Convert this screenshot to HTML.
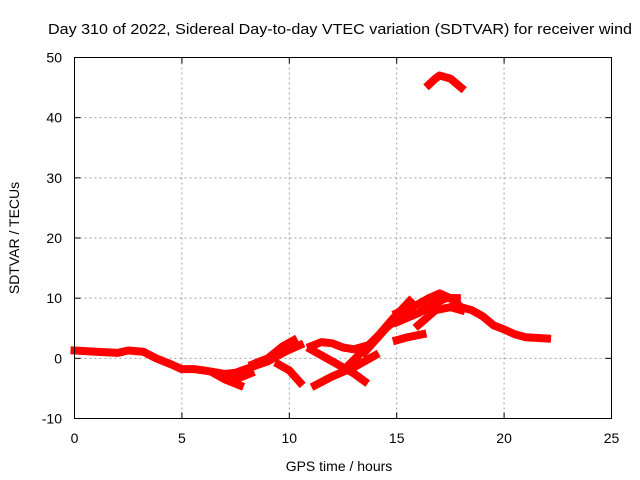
<!DOCTYPE html>
<html><head><meta charset="utf-8"><style>
body{margin:0;background:#fff;}
svg{display:block;font-family:"Liberation Sans",sans-serif;}
</style></head><body>
<svg id="chart" width="640" height="480">
<text x="48" y="34" font-size="15" textLength="584" lengthAdjust="spacingAndGlyphs" fill="#000">Day 310 of 2022, Sidereal Day-to-day VTEC variation (SDTVAR) for receiver wind</text>
<g id="grid"></g>
<g id="marks"></g>
<rect x="74.5" y="57.5" width="537" height="361" fill="none" stroke="#000"/>
<g id="ticks"></g>
<text x="0" y="0" font-size="14" text-anchor="middle" transform="translate(19,238) rotate(-90)">SDTVAR / TECUs</text>
<text x="339" y="471" font-size="14" text-anchor="middle">GPS time / hours</text>
</svg>
<script>
const xTicks=[0,5,10,15,20,25];
const yTicks=[-10,0,10,20,30,40,50];
const track1=[[0,1.3],[1,1.1],[2,0.9],[2.5,1.3],[3.2,1.1],[3.8,0],[4.5,-1],[5,-1.8],[5.6,-1.8],[6,-2],[7,-2.6],[7.5,-2.4],[8.2,-1.5],[9,-0.5],[10,1.5]];
const track2=[[6.5,-2.5],[7,-3.5],[7.7,-4.5]];
const track3=[[7.5,-3.5],[8.2,-2.5]];
const track4=[[8.3,-1],[9,0],[9.7,2],[10.2,3]];
const track5=[[9.4,0.5],[10.5,2.2]];
const track6=[[9.5,-1],[10,-2],[10.5,-4]];
const track7=[[11,2],[11.5,2.7],[12,2.5],[12.5,1.8],[13,1.5],[13.5,2]];
const track8=[[11,1.5],[12,-0.5],[12.5,-1.5],[13,-2.5],[13.5,-3.8]];
const track9=[[11.2,-4.5],[12,-3],[13,-1.5],[14,0.5]];
const track10=[[12.8,-1],[13.5,1.5],[14.2,4],[14.8,6.5],[15.2,8],[15.6,9.5]];
const track11=[[13.5,1],[14,3],[14.5,5],[15,6.5],[15.7,8]];
const track12=[[15,3],[15.5,3.5],[16.2,4]];
const track13=[[15,6],[16,7.5],[17,9.5],[17.3,10],[17.8,10]];
const track14=[[15,7.5],[16,9],[16.5,10],[17,10.8],[17.5,10],[18,8.5],[18.5,8],[19,7],[19.5,5.5],[20,4.8],[20.5,4],[21,3.5],[22,3.3]];
const track15=[[16,5.5],[16.8,8],[17.5,8.5],[18,8]];
const track16=[[16.5,45.5],[16.8,46.5],[17,47],[17.5,46.5],[18,45]];
const tracks=[track1,track2,track3,track4,track5,track6,track7,track8,track9,track10,track11,track12,track13,track14,track15,track16];
const X=v=>74.5+v/25*537;
const Y=v=>418.5-(v+10)/60*361;
const NS="http://www.w3.org/2000/svg";
const grid=document.getElementById('grid'),ticks=document.getElementById('ticks'),marks=document.getElementById('marks');
function mk(tag,attrs,parent){const e=document.createElementNS(NS,tag);for(const k in attrs)e.setAttribute(k,attrs[k]);parent.appendChild(e);return e;}
xTicks.forEach(t=>{
 if(t>0&&t<25){const g=mk('line',{x1:X(t),x2:X(t),y1:57.5,y2:418.5,stroke:'#a0a0a0','stroke-dasharray':'2,3'},grid);
 
 }
 mk('line',{x1:X(t),x2:X(t),y1:418.5,y2:412.5,stroke:'#000'},ticks);
 mk('line',{x1:X(t),x2:X(t),y1:57.5,y2:63.5,stroke:'#000'},ticks);
 const l=mk('text',{x:X(t),y:443,'font-size':14,'text-anchor':'middle'},ticks);l.textContent=t;
 
 
});
yTicks.forEach(t=>{
 if(t>-10&&t<50){const g=mk('line',{x1:74.5,x2:611.5,y1:Y(t),y2:Y(t),stroke:'#a0a0a0','stroke-dasharray':'2,3'},grid);
 
 }
 mk('line',{x1:74.5,x2:80.5,y1:Y(t),y2:Y(t),stroke:'#000'},ticks);
 mk('line',{x1:605.5,x2:611.5,y1:Y(t),y2:Y(t),stroke:'#000'},ticks);
 const l=mk('text',{x:62,y:Y(t)+5,'font-size':14,'text-anchor':'end'},ticks);l.textContent=t;
 
 
});
tracks.forEach(tr=>{
 const p=mk('polyline',{points:tr.map(d=>X(d[0])+','+Y(d[1])).join(' '),fill:'none',stroke:'#ff0000','stroke-width':8,'stroke-linejoin':'round','stroke-linecap':'square'},marks);
 
 
});
</script>
</body></html>
